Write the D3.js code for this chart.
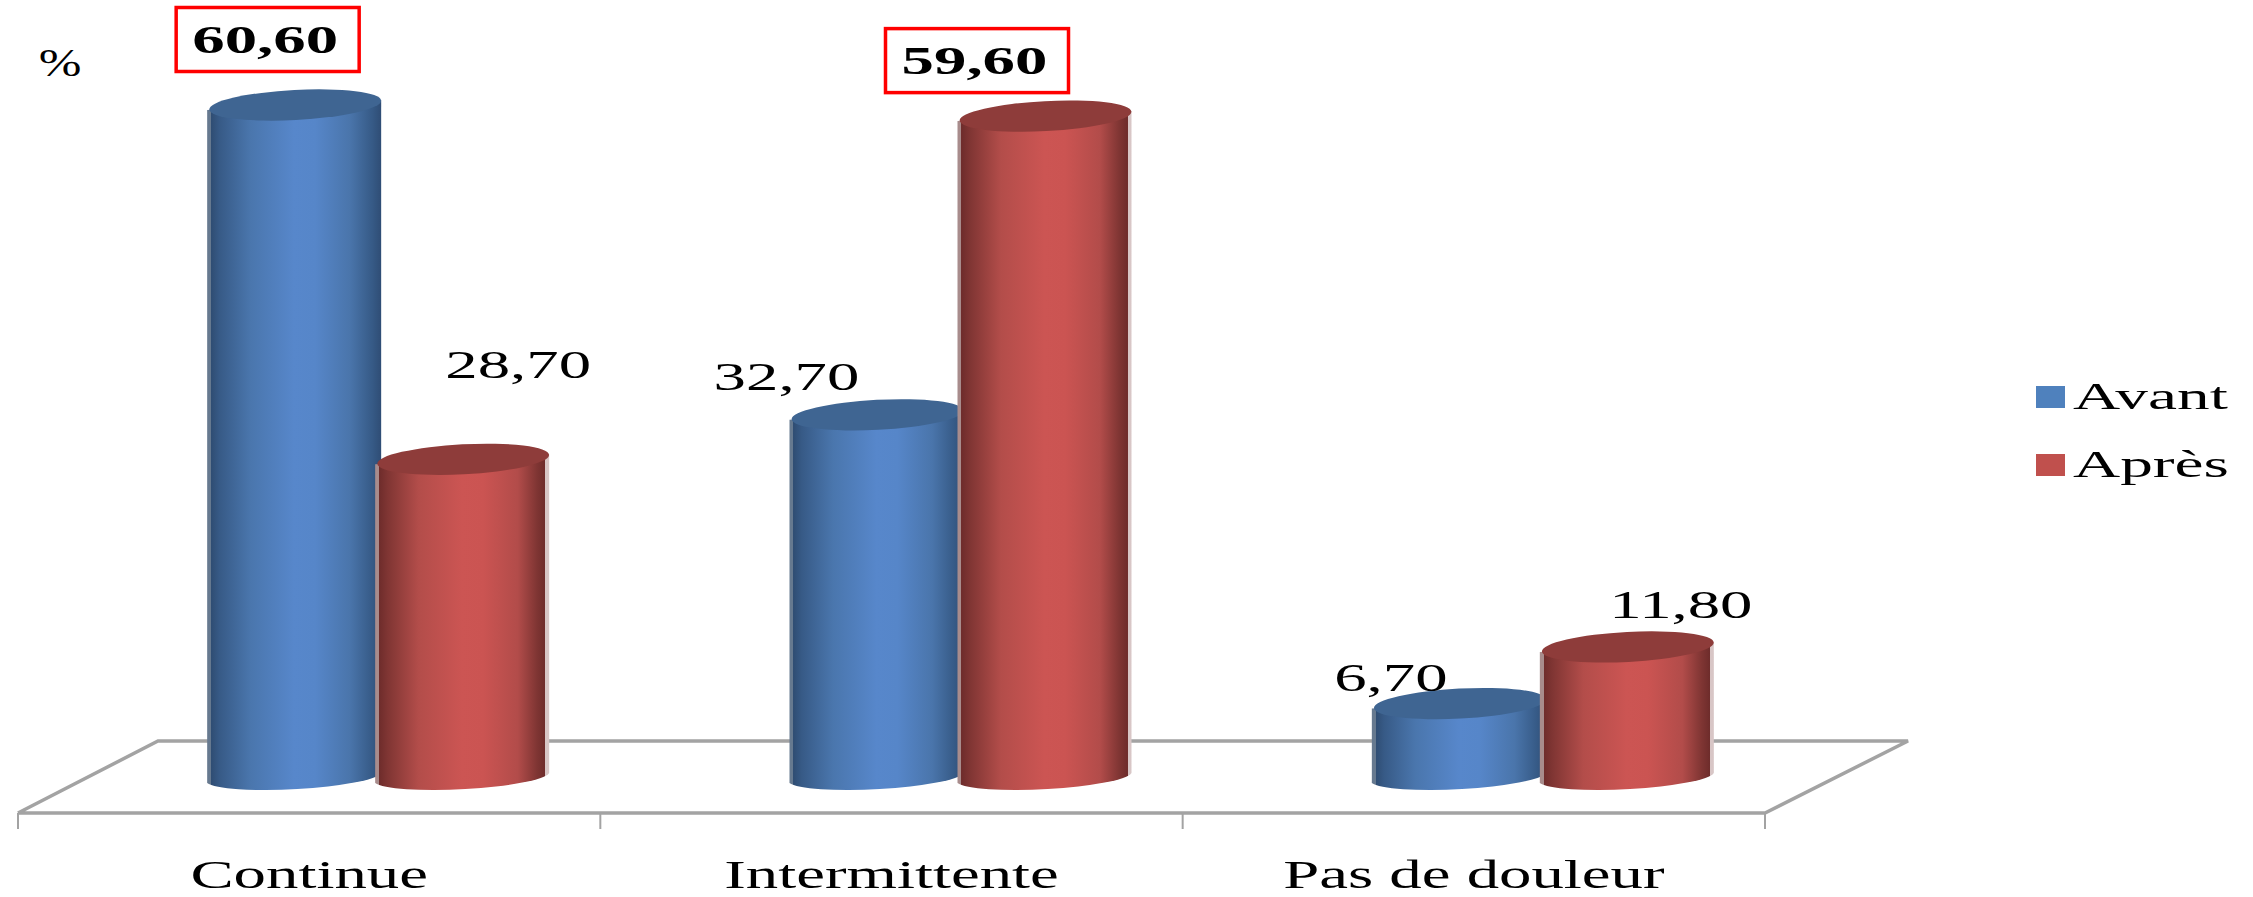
<!DOCTYPE html>
<html>
<head>
<meta charset="utf-8">
<script src="https://cdn.jsdelivr.net/npm/d3@7"></script>
<style>
  body { margin: 0; background: #fff; }
  text { font-family: "Liberation Serif", serif; fill: #000; }
</style>
</head>
<body>
<div id="chart"></div>
<script>
var categories = ["Continue", "Intermittente", "Pas de douleur"];
var seriesNames = ["Avant", "Après"];
var avant = [60.6, 32.7, 6.7];
var apres = [28.7, 59.6, 11.8];
var avantLabels = ["60,60", "32,70", "6,70"];
var apresLabels = ["28,70", "59,60", "11,80"];

var svgWidth = 2253, svgHeight = 897;

var svg = d3.select("#chart").append("svg")
  .attr("width", svgWidth)
  .attr("height", svgHeight)
  .style("display", "block");

// the 3d floor: front edge is the axis, back edge is shifted by depth
var floorFront = 813, floorBack = 741, depth = 69;
var xScale = d3.scaleBand().domain(categories).range([18, 1765]);
var xSeries = d3.scaleBand().domain(seriesNames).range([0, 336]);
var yScale = d3.scaleLinear().domain([0, 60.6]).range([778, 105]);

var barWidth = xSeries.bandwidth() + 6;
var topRy = 15, baseRy = 13, tilt = 5;

var defs = svg.append("defs");
function addGradient(id, stops) {
  var g = defs.append("linearGradient").attr("id", id);
  stops.forEach(function(s) {
    g.append("stop").attr("offset", s[0]).attr("stop-color", s[1]);
  });
}
// first and last stops are the pale fringe on the cylinder edges
addGradient("blueGrad", [[0, "#66798f"], [0.022, "#66798f"], [0.023, "#2f4d73"], [0.07, "#375a86"],
  [0.25, "#4a76ad"], [0.5, "#5787cb"], [0.62, "#5686c9"], [0.82, "#4a75ab"], [0.95, "#365a86"], [1, "#2f4d75"]]);
addGradient("redGrad", [[0, "#a88c8c"], [0.022, "#a88c8c"], [0.023, "#6e2c2b"], [0.07, "#7f3533"],
  [0.25, "#b34d4a"], [0.5, "#cc5553"], [0.62, "#cb5452"], [0.82, "#b24c4a"], [0.93, "#7f3533"],
  [0.977, "#6e2c2b"], [0.978, "#d8c6c6"], [1, "#d8c6c6"]]);

var gridColor = "#a3a3a3";
var floor = svg.append("g").attr("fill", "none").attr("stroke", gridColor);
var x0 = xScale.range()[0], x1 = xScale.range()[1];
floor.append("path")
  .attr("stroke-width", 3.5)
  .attr("d", d3.line()([[x0, floorFront], [x0 + 140, floorBack], [x1 + 143, floorBack], [x1, floorFront], [x0, floorFront]]));

// ticks sit on the band edges
var edges = categories.map(function(c) { return xScale(c); }).concat([x1]);
floor.selectAll("line").data(edges).enter().append("line")
  .attr("x1", function(d) { return d; })
  .attr("x2", function(d) { return d; })
  .attr("y1", floorFront)
  .attr("y2", floorFront + 16)
  .attr("stroke-width", 2);

// category labels
var xAxis = d3.axisBottom(xScale).tickSize(0);
var axisGroup = svg.append("g")
  .attr("transform", "translate(0," + floorFront + ")")
  .call(xAxis);
axisGroup.select(".domain").remove();
axisGroup.selectAll("text")
  .attr("y", 0)
  .attr("dy", 0)
  .attr("text-anchor", "middle")
  .style("font-family", "'Liberation Serif', serif")
  .style("font-size", "41px")
  .style("fill", "#000")
  .attr("transform", "translate(0,75) scale(1.58,1)");

var rows = [];
categories.forEach(function(c, i) {
  rows.push({ cat: c, s: seriesNames[0], v: avant[i], label: avantLabels[i], grad: "blueGrad", top: "#3f6592" });
  rows.push({ cat: c, s: seriesNames[1], v: apres[i], label: apresLabels[i], grad: "redGrad", top: "#8e3c3a" });
});

function barCenter(d) {
  return xScale(d.cat) + xScale.bandwidth() / 2 + depth - 168 + xSeries(d.s) + xSeries.bandwidth() / 2;
}

function bodyPath(d) {
  var cx = barCenter(d), r = barWidth / 2;
  var yTop = yScale(d.v), yBase = yScale(0);
  var rx = r + 1;
  return "M" + (cx - r) + "," + (yTop + tilt)
    + "L" + (cx + r) + "," + (yTop - tilt)
    + "L" + (cx + r) + "," + (yBase - tilt)
    + "A" + rx + "," + baseRy + " -3 0 1 " + (cx - r) + "," + (yBase + tilt)
    + "Z";
}

var bars = svg.append("g").selectAll("g").data(rows).enter().append("g");

bars.append("path")
  .attr("d", bodyPath)
  .attr("fill", function(d) { return "url(#" + d.grad + ")"; });

bars.append("ellipse")
  .attr("rx", barWidth / 2 - 1)
  .attr("ry", topRy)
  .attr("fill", function(d) { return d.top; })
  .attr("transform", function(d) {
    return "translate(" + (barCenter(d) + 1) + "," + yScale(d.v) + ") rotate(-3)";
  });

// data labels were moved by hand in the original, so each one has its own offset
var labelOffsets = [[-29, -52], [56, -81], [-90, -25], [-70, -42], [-68, -13], [54, -29]];
var boldLabels = ["60,60", "59,60"];

var labels = svg.append("g").selectAll("g").data(rows).enter().append("g")
  .attr("transform", function(d, i) {
    var off = labelOffsets[i];
    return "translate(" + (barCenter(d) + off[0]) + "," + (yScale(d.v) + off[1]) + ")";
  });

labels.filter(function(d) { return boldLabels.indexOf(d.label) >= 0; })
  .append("rect")
  .attr("x", -89)
  .attr("y", -45.5)
  .attr("width", 183)
  .attr("height", 64)
  .attr("fill", "#fff")
  .attr("stroke", "#ff0000")
  .attr("stroke-width", 3.5);

labels.append("text")
  .attr("text-anchor", "middle")
  .attr("transform", "scale(1.58,1)")
  .style("font-size", "41px")
  .style("font-weight", function(d) { return boldLabels.indexOf(d.label) >= 0 ? "bold" : "normal"; })
  .text(function(d) { return d.label; });

// percent sign
svg.append("text")
  .attr("transform", "translate(60,76) scale(1.25,1)")
  .attr("text-anchor", "middle")
  .style("font-size", "41px")
  .text("%");

// legend
var legendColors = ["#4f81bd", "#c0504d"];
var legend = svg.append("g").selectAll("g").data(seriesNames).enter().append("g")
  .attr("transform", function(d, i) { return "translate(2036," + (386 + i * 68) + ")"; });

legend.append("rect")
  .attr("width", 29)
  .attr("height", 22)
  .attr("fill", function(d, i) { return legendColors[i]; });

legend.append("text")
  .attr("transform", "translate(37,23) scale(1.72,1)")
  .style("font-size", "38px")
  .text(function(d) { return d; });
</script>
</body>
</html>
